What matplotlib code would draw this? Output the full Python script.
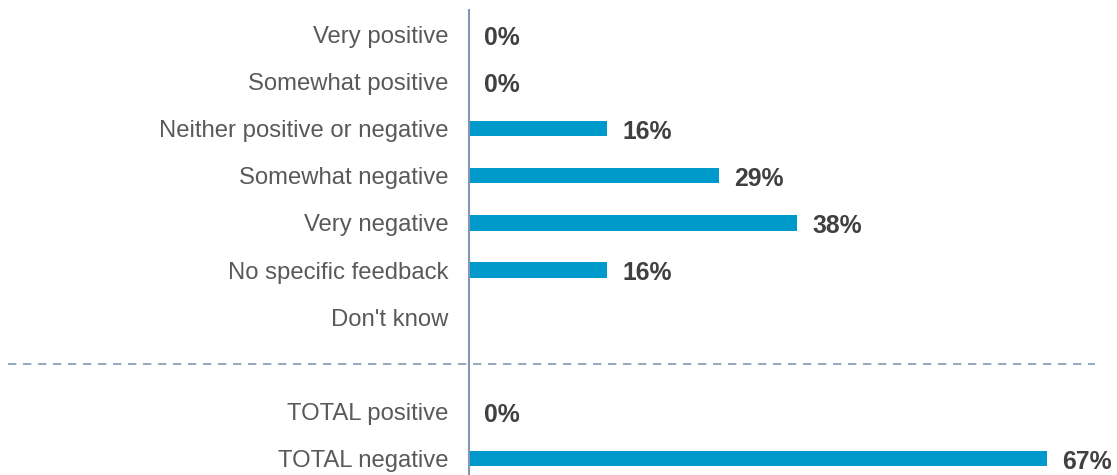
import matplotlib.pyplot as plt

plt.rcParams['font.family'] = ['Liberation Sans', 'DejaVu Sans']

categories = ["Very positive", "Somewhat positive", "Neither positive or negative",
              "Somewhat negative", "Very negative", "No specific feedback", "Don't know",
              "TOTAL positive", "TOTAL negative"]
values = [0, 0, 16, 29, 38, 16, None, 0, 67]
# row 7 is left empty for the divider between detail rows and totals
positions = [0, 1, 2, 3, 4, 5, 6, 8, 9]
divider_row = 7

bar_color = '#0099CC'
label_color = '#595959'
value_color = '#404040'

fig = plt.figure(figsize=(11.17, 4.75), dpi=100)
ax = fig.add_axes([469 / 1117, 0, 648 / 1117, 465 / 475])

for pos, val in zip(positions, values):
    if val is None:
        continue
    ax.barh(pos, val, height=0.32, color=bar_color)
    ax.annotate(f"{val}%", xy=(val, pos), xytext=(11, -2.5), textcoords='offset points',
                ha='left', va='center', fontsize=17.8, fontweight='bold', color=value_color)

ax.set_yticks(positions)
ax.set_yticklabels(categories, fontsize=17.2, color=label_color)
ax.tick_params(axis='y', length=0, pad=15)
ax.set_xticks([])
ax.set_xlim(0, 648 / 8.63)
ax.set_ylim(9.36, -0.53)

for side in ['top', 'right', 'bottom']:
    ax.spines[side].set_visible(False)
ax.spines['left'].set_color('#8497B0')
ax.spines['left'].set_linewidth(1.5)

ax.plot([-0.712, 0.966], [divider_row, divider_row], transform=ax.get_yaxis_transform(),
        clip_on=False, color='#8497B0', linestyle=(0, (5, 4)), linewidth=1.2)

fig.savefig('out.png', dpi=100)
